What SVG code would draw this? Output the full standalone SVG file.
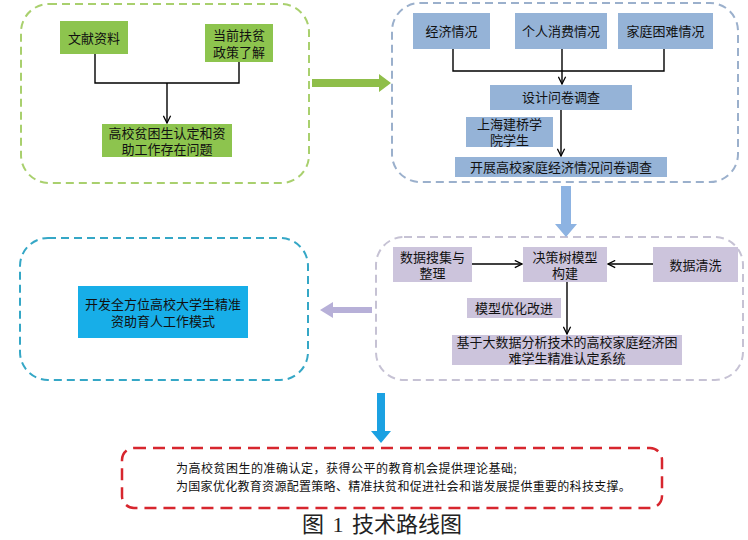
<svg xmlns="http://www.w3.org/2000/svg" width="748" height="540" viewBox="0 0 748 540">
<defs>
<marker id="v" viewBox="0 0 10 10" refX="9" refY="5" markerWidth="9" markerHeight="9" markerUnits="userSpaceOnUse" orient="auto">
<path d="M1,1 L9,5 L1,9" fill="none" stroke="#000" stroke-width="1.4"/>
</marker>
<style>
text{font-family:"Liberation Serif","Noto Sans CJK SC","Noto Sans CJK JP",serif;font-size:13px;fill:#111;text-anchor:middle;dominant-baseline:central}
.panel{fill:#fff;stroke-width:2;stroke-dasharray:8 5}
.g{fill:#8dc44e}
.b{fill:#95b3d7}
.p{fill:#ccc4dc}
.c{fill:#17aee8}
.ln{fill:none;stroke:#000;stroke-width:1.4}
</style>
</defs>
<rect width="748" height="540" fill="#fff"/>

<g id="panel-top-left">
<rect class="panel" x="21" y="4" width="288" height="179" rx="28" stroke="#a9d06e"/>
</g>
<g id="panel-top-right">
<rect class="panel" x="392" y="3" width="346" height="179" rx="28" stroke="#9bb0cc"/>
</g>
<g id="panel-mid-right">
<rect class="panel" x="376" y="237" width="367" height="143" rx="28" stroke="#c6c2d4"/>
</g>
<g id="panel-mid-left">
<rect class="panel" x="20" y="238" width="288" height="142" rx="28" stroke="#35a7c6"/>
</g>
<g id="panel-bottom">
<rect x="122" y="448" width="540" height="60" rx="12" fill="#fff" stroke="#d7262e" stroke-width="2.5" stroke-dasharray="12 7"/>
</g>

<g id="n-wenxian"><rect class="g" x="60" y="21" width="68" height="33"/><text x="94" y="38">文献资料</text></g>
<g id="n-fupin"><rect class="g" x="205" y="24" width="68" height="38"/><text x="239" y="35">当前扶贫</text><text x="239" y="52">政策了解</text></g>
<g id="n-wenti"><rect class="g" x="102" y="124" width="130" height="33"/><text x="167" y="133">高校贫困生认定和资</text><text x="167" y="149">助工作存在问题</text></g>

<g id="n-jingji"><rect class="b" x="413" y="13" width="77" height="36"/><text x="451.5" y="31">经济情况</text></g>
<g id="n-xiaofei"><rect class="b" x="515" y="13" width="92" height="36"/><text x="561" y="31">个人消费情况</text></g>
<g id="n-kunnan"><rect class="b" x="618" y="13" width="95" height="36"/><text x="665.5" y="31">家庭困难情况</text></g>
<g id="n-sheji"><rect class="b" x="490" y="85" width="142" height="25"/><text x="561" y="97.5">设计问卷调查</text></g>
<g id="n-jianqiao"><rect class="b" x="466" y="117" width="87" height="30"/><text x="509.5" y="124.5">上海建桥学</text><text x="509.5" y="140">院学生</text></g>
<g id="n-kaizhan"><rect class="b" x="455" y="157" width="212" height="20"/><text x="561" y="167">开展高校家庭经济情况问卷调查</text></g>

<g id="n-souji"><rect class="p" x="393" y="247" width="79" height="35"/><text x="432.5" y="257">数据搜集与</text><text x="432.5" y="273">整理</text></g>
<g id="n-juece"><rect class="p" x="523" y="247" width="84" height="35"/><text x="565" y="257">决策树模型</text><text x="565" y="273">构建</text></g>
<g id="n-qingxi"><rect class="p" x="653" y="247" width="85" height="35"/><text x="695.5" y="265">数据清洗</text></g>
<g id="n-youhua"><rect class="p" x="467" y="298" width="94" height="20"/><text x="514" y="308">模型优化改进</text></g>
<g id="n-xitong"><rect class="p" x="452" y="335" width="230" height="30"/><text x="567" y="342.5">基于大数据分析技术的高校家庭经济困</text><text x="567" y="358">难学生精准认定系统</text></g>

<g id="n-moshi"><rect class="c" x="78" y="286" width="170" height="52"/><text x="163" y="304">开发全方位高校大学生精准</text><text x="163" y="321">资助育人工作模式</text></g>

<g id="n-result">
<text x="176" y="469" style="text-anchor:start;font-size:12px;letter-spacing:0.5px">为高校贫困生的准确认定，获得公平的教育机会提供理论基础;</text>
<text x="176" y="487" style="text-anchor:start;font-size:12px;letter-spacing:0.3px">为国家优化教育资源配置策略、精准扶贫和促进社会和谐发展提供重要的科技支撑。</text>
</g>

<g id="caption"><text x="382" y="524" style="font-size:22px;fill:#222;word-spacing:3px">图 1 技术路线图</text></g>

<g id="connectors">
<polyline class="ln" points="95,54 95,83 239,83 239,62"/>
<line class="ln" x1="167" y1="83" x2="167" y2="123" marker-end="url(#v)"/>
<polyline class="ln" points="453,49 453,71 664,71 664,49"/>
<line class="ln" x1="562" y1="49" x2="562" y2="84" marker-end="url(#v)"/>
<line class="ln" x1="561" y1="110" x2="561" y2="156" marker-end="url(#v)"/>
<line class="ln" x1="472" y1="264" x2="522" y2="264" marker-end="url(#v)"/>
<line class="ln" x1="653" y1="264" x2="608" y2="264" marker-end="url(#v)"/>
<line class="ln" x1="567" y1="282" x2="567" y2="334" marker-end="url(#v)"/>
<polygon points="312,79 379,79 379,74 391,83 379,92 379,87 312,87" fill="#8fbe4a"/>
<polygon points="561,186 571,186 571,224 577,224 566,237 555,224 561,224" fill="#8db3e2"/>
<polygon points="372,307 333,307 333,302 320,310 333,318 333,313 372,313" fill="#b7b0d8"/>
<polygon points="377,393 385,393 385,431 391,431 381,443 371,431 377,431" fill="#1ba1e2"/>
</g>
</svg>
